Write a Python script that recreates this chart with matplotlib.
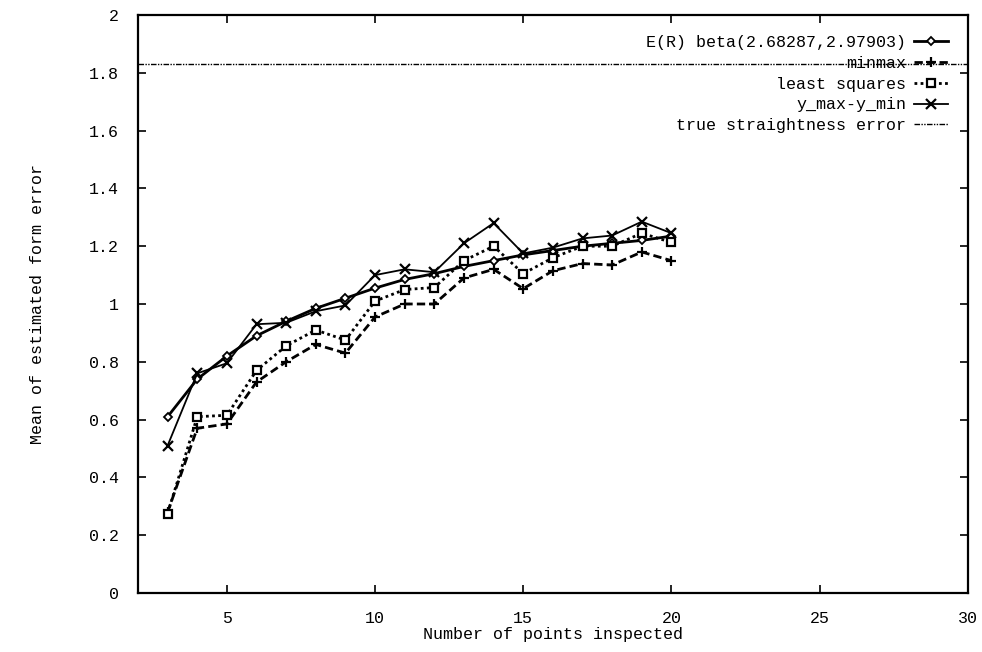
import numpy as np
import matplotlib
matplotlib.use("Agg")
import matplotlib.pyplot as plt
from matplotlib.ticker import FuncFormatter

plt.rcParams['font.family'] = ['Liberation Mono', 'DejaVu Sans Mono']

# data
n_points = [3, 4, 5, 6, 7, 8, 9, 10, 11, 12, 13, 14, 15, 16, 17, 18, 19, 20]
er_beta = [0.61, 0.74, 0.82, 0.89, 0.94, 0.985, 1.02, 1.055, 1.085, 1.105,
           1.13, 1.15, 1.17, 1.185, 1.2, 1.21, 1.22, 1.235]
minmax = [0.28, 0.57, 0.585, 0.73, 0.80, 0.86, 0.83, 0.955, 1.0, 1.0,
          1.09, 1.12, 1.053, 1.115, 1.14, 1.135, 1.18, 1.15]
least_sq = [0.275, 0.61, 0.615, 0.77, 0.855, 0.91, 0.875, 1.01, 1.05, 1.057,
            1.15, 1.2, 1.105, 1.16, 1.2, 1.2, 1.245, 1.213]
ymax_ymin = [0.51, 0.76, 0.795, 0.93, 0.935, 0.975, 0.995, 1.10, 1.12, 1.11,
             1.21, 1.28, 1.175, 1.195, 1.227, 1.237, 1.285, 1.245]
true_err = 1.832
beta_label = "E(R) beta(2.68287,2.97903)"

fig = plt.figure(figsize=(9.82, 6.52), dpi=100)
ax = fig.add_axes([0.1405, 0.0905, 0.845, 0.8865])

ax.plot(n_points, er_beta, color='black', lw=2.0, marker='D', ms=4,
        mfc='white', mec='black', mew=1.3, label=beta_label)
ax.plot(n_points, minmax, color='black', lw=2.0, ls=(0, (3, 1.5)), marker='+',
        ms=7, mew=1.6, label='minmax')
ax.plot(n_points, least_sq, color='black', lw=2.0, ls=(0, (1, 1.2)), marker='s',
        ms=5.5, mfc='white', mec='black', mew=1.6, label='least squares')
ax.plot(n_points, ymax_ymin, color='black', lw=1.3, marker='x', ms=7, mew=1.6,
        label='y_max-y_min')
ax.axhline(true_err, color='black', lw=1.0, ls=(0, (4, 1, 1, 1, 1, 1)),
           label='true straightness error')

ax.set_xlim(2, 30)
ax.set_ylim(0, 2)
ax.set_xticks([5, 10, 15, 20, 25, 30])
ax.set_yticks(np.arange(0, 2.01, 0.2))
ax.yaxis.set_major_formatter(FuncFormatter(lambda v, p: '%g' % round(v, 1)))
ax.tick_params(direction='in', top=True, right=True, length=6, width=1.2,
               labelsize=12)
ax.tick_params(axis='x', pad=13)
ax.tick_params(axis='y', pad=14)
for s in ax.spines.values():
    s.set_linewidth(1.6)

ax.set_xlabel('Number of points inspected', fontsize=12, labelpad=1)
ax.set_ylabel('Mean of estimated form error', fontsize=12, labelpad=31)

leg = ax.legend(loc='upper right', frameon=False, markerfirst=False,
                fontsize=12, handlelength=2.0, labelspacing=0.35,
                borderaxespad=0.8, handletextpad=0.5)
for t in leg.get_texts():
    t.set_ha('right')

fig.savefig('out.png', dpi=100)
